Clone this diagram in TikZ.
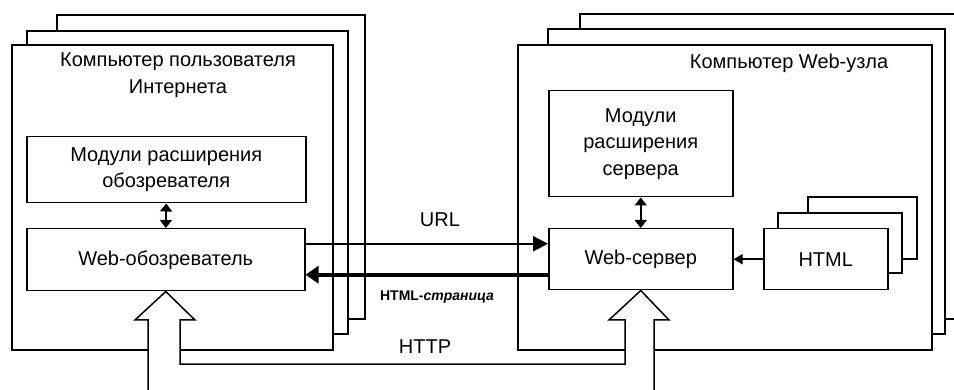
\documentclass[tikz,border=0pt]{standalone}
\usepackage{fontspec}
\setmainfont{Liberation Sans}
\usetikzlibrary{arrows.meta,calc}
\begin{document}
\begin{tikzpicture}[x=1pt,y=-1pt,
  frame/.style={draw, line width=1.5pt, fill=white},
  box/.style={draw, line width=1.5pt, fill=white, inner sep=0pt, align=center,
    font=\fontsize{20}{26.5}\selectfont, anchor=north west},
  lbl/.style={inner sep=0pt, align=center, font=\fontsize{20}{26.5}\selectfont},
  dbl/.style={line width=1.8pt, {Triangle[length=8pt,width=12pt]}-{Triangle[length=8pt,width=12pt]}},
  hollow/.style={line width=1.5pt, line join=miter}
]
\useasboundingbox (0,0) rectangle (954,390);
\fill[white] (0,0) rectangle (954,390);
% left computer stack
\draw[frame] (57,15) rectangle (365,319);
\draw[frame] (27,31) rectangle (348,334);
\draw[frame] (12,45) rectangle (333,350);
% right computer stack
\draw[frame] (580,14) rectangle (968,319);
\draw[frame] (548,29) rectangle (945,334);
\draw[frame] (518,45) rectangle (932,350);

\node[lbl] (userpc) at (178,75) {Компьютер пользователя\\Интернета};
\node[lbl] (webpc) at (789,63) {Компьютер Web-узла};

\node[box, minimum width=279pt, minimum height=66pt] (modb) at (26,136) {Модули расширения\\обозревателя};
\node[box, minimum width=278pt, minimum height=62pt] (browser) at (26,228) {Web-обозреватель};
\node[box, minimum width=184pt, minimum height=106pt] (mods) at (548,90) {Модули\\расширения\\сервера};
\node[box, minimum width=184pt, minimum height=61pt] (server) at (548,228) {Web-сервер};

% HTML stack
\draw[frame] (808,197) rectangle (917,259);
\draw[frame] (778,213) rectangle (902,273);
\node[box, minimum width=124pt, minimum height=61pt] (html) at (763,228) {HTML};

% double arrows
\draw[dbl] (modb.south) -- (browser.north);
\draw[dbl] (mods.south) -- (server.north);

% URL
\draw[line width=2.4pt, -{Triangle[length=15pt,width=15pt]}]
  ($(browser.east)+(0,-16)$) -- ($(server.west|-browser.east)+(0,-16)$);
\node[lbl] (url) at (440,220) {URL};
% HTML page
\draw[line width=3.6pt, -{Triangle[length=13pt,width=17pt]}]
  ($(server.west|-browser.east)+(0,15)$) -- ($(browser.east)+(0,15)$);
\node[inner sep=0pt, font=\fontsize{14}{16}\selectfont\bfseries] (page) at (437,297) {HTML-\textit{страница}};
% HTML -> server
\draw[line width=1.5pt, -{Triangle[length=9pt,width=10pt]}] (html.west) -- (server.east);

% HTTP hollow arrows
\fill[white] (148,392) -- (148,320) -- (135,320) -- (browser.south) -- (195,320) -- (180,320)
  -- (180,364) -- (625,364) -- (625,320) -- (609,320) -- (server.south) -- (669,320)
  -- (654,320) -- (654,392) -- cycle;
\draw[hollow] (148,392) -- (148,320) -- (135,320) -- (browser.south) -- (195,320) -- (180,320)
  -- (180,364) -- (625,364) -- (625,320) -- (609,320) -- (server.south) -- (669,320)
  -- (654,320) -- (654,392);
\node[lbl] (http) at (425,347) {HTTP};
\end{tikzpicture}
\end{document}
